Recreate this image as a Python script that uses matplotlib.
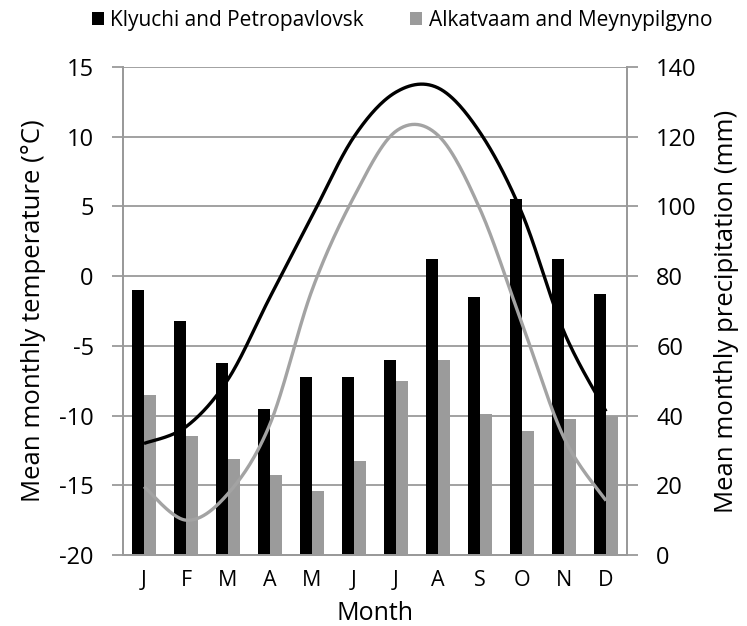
import numpy as np
import matplotlib
matplotlib.use("Agg")
import matplotlib.pyplot as plt

plt.rcParams['font.family'] = ['Open Sans', 'DejaVu Sans']
plt.rcParams['axes.unicode_minus'] = False

months = ["J", "F", "M", "A", "M", "J", "J", "A", "S", "O", "N", "D"]

# precipitation (mm), right axis
precip_kp = [76, 67, 55, 42, 51, 51, 56, 85, 74, 102, 85, 75]
precip_am = [46, 34, 27.5, 23, 18.5, 27, 50, 56, 40.5, 35.5, 39, 40]

# temperature (deg C), left axis
temp_kp = [-12.0, -10.8, -7.4, -1.5, 4.3, 10.0, 13.2, 13.5, 10.3, 4.5, -4.0, -9.7]
temp_am = [-15.1, -17.5, -15.6, -10.6, -1.0, 5.7, 10.4, 10.1, 4.8, -3.4, -11.6, -16.1]

label_kp = "Klyuchi and Petropavlovsk"
label_am = "Alkatvaam and Meynypilgyno"


def smooth(y, n=30):
    # catmull-rom style curve through the points, like the spreadsheet smoothing
    x = np.arange(len(y), dtype=float)
    pts = np.column_stack([x, np.asarray(y, float)])
    ext = np.vstack([pts[0], pts, pts[-1]])
    out = []
    for i in range(len(pts) - 1):
        p0, p1, p2, p3 = ext[i], ext[i + 1], ext[i + 2], ext[i + 3]
        c1 = p1 + (p2 - p0) / 6
        c2 = p2 - (p3 - p1) / 6
        t = np.linspace(0, 1, n)[:, None]
        seg = ((1 - t) ** 3) * p1 + 3 * ((1 - t) ** 2) * t * c1 + 3 * (1 - t) * t ** 2 * c2 + t ** 3 * p2
        out.append(seg if i == 0 else seg[1:])
    out = np.vstack(out)
    return out[:, 0], out[:, 1]


fig = plt.figure(figsize=(7.47, 6.26), dpi=100)
ax = fig.add_axes([0.1647, 0.1134, 0.6747, 0.7796])
ax2 = ax.twinx()

grid_col = "#9a9a9a"
x = np.arange(len(months))
w = 0.29

ax2.bar(x - w / 2, precip_kp, width=w, color="black", label=label_kp, zorder=2)
ax2.bar(x + w / 2, precip_am, width=w, color="#9b9b9b", label=label_am, zorder=2)
ax2.set_ylim(0, 140)
ax2.set_yticks(range(0, 141, 20))
ax2.yaxis.grid(True, color=grid_col, linewidth=1.3)
ax2.set_axisbelow(True)

xs, ys = smooth(temp_kp)
ax.plot(xs, ys, color="black", linewidth=2.4, solid_capstyle="butt")
xs, ys = smooth(temp_am)
ax.plot(xs, ys, color="#a3a3a3", linewidth=2.4, solid_capstyle="butt")
ax.set_ylim(-20, 15)
ax.set_yticks(range(-20, 16, 5))
ax.set_xlim(-0.5, 11.5)
ax.set_xticks(x)
ax.set_xticklabels(months)

ax.set_zorder(ax2.get_zorder() + 1)
ax.patch.set_visible(False)

for a in (ax, ax2):
    for s in a.spines.values():
        s.set_color(grid_col)
        s.set_linewidth(1.3)
    a.spines["top"].set_visible(False)
    a.tick_params(axis="y", colors=grid_col, length=8, width=1.3, labelsize=17,
                  labelcolor="black", pad=13)
ax.tick_params(axis="x", length=0, labelsize=15.5, pad=11)

ax.set_ylabel("Mean monthly temperature (°C)", fontsize=18.5)
ax2.set_ylabel("Mean monthly precipitation (mm)", fontsize=18.5)
ax.set_xlabel("Month", fontsize=18)
ax.yaxis.set_label_coords(-0.152, 0.5)
ax2.yaxis.set_label_coords(1.172, 0.5)
ax.xaxis.set_label_coords(0.5, -0.094)

fig.legend(loc="center", bbox_to_anchor=(0.538, 0.968), ncol=2, frameon=False,
           fontsize=15, handlelength=0.6, handleheight=0.6, handletextpad=0.3,
           columnspacing=2.2)

fig.savefig("out.png", dpi=100)
